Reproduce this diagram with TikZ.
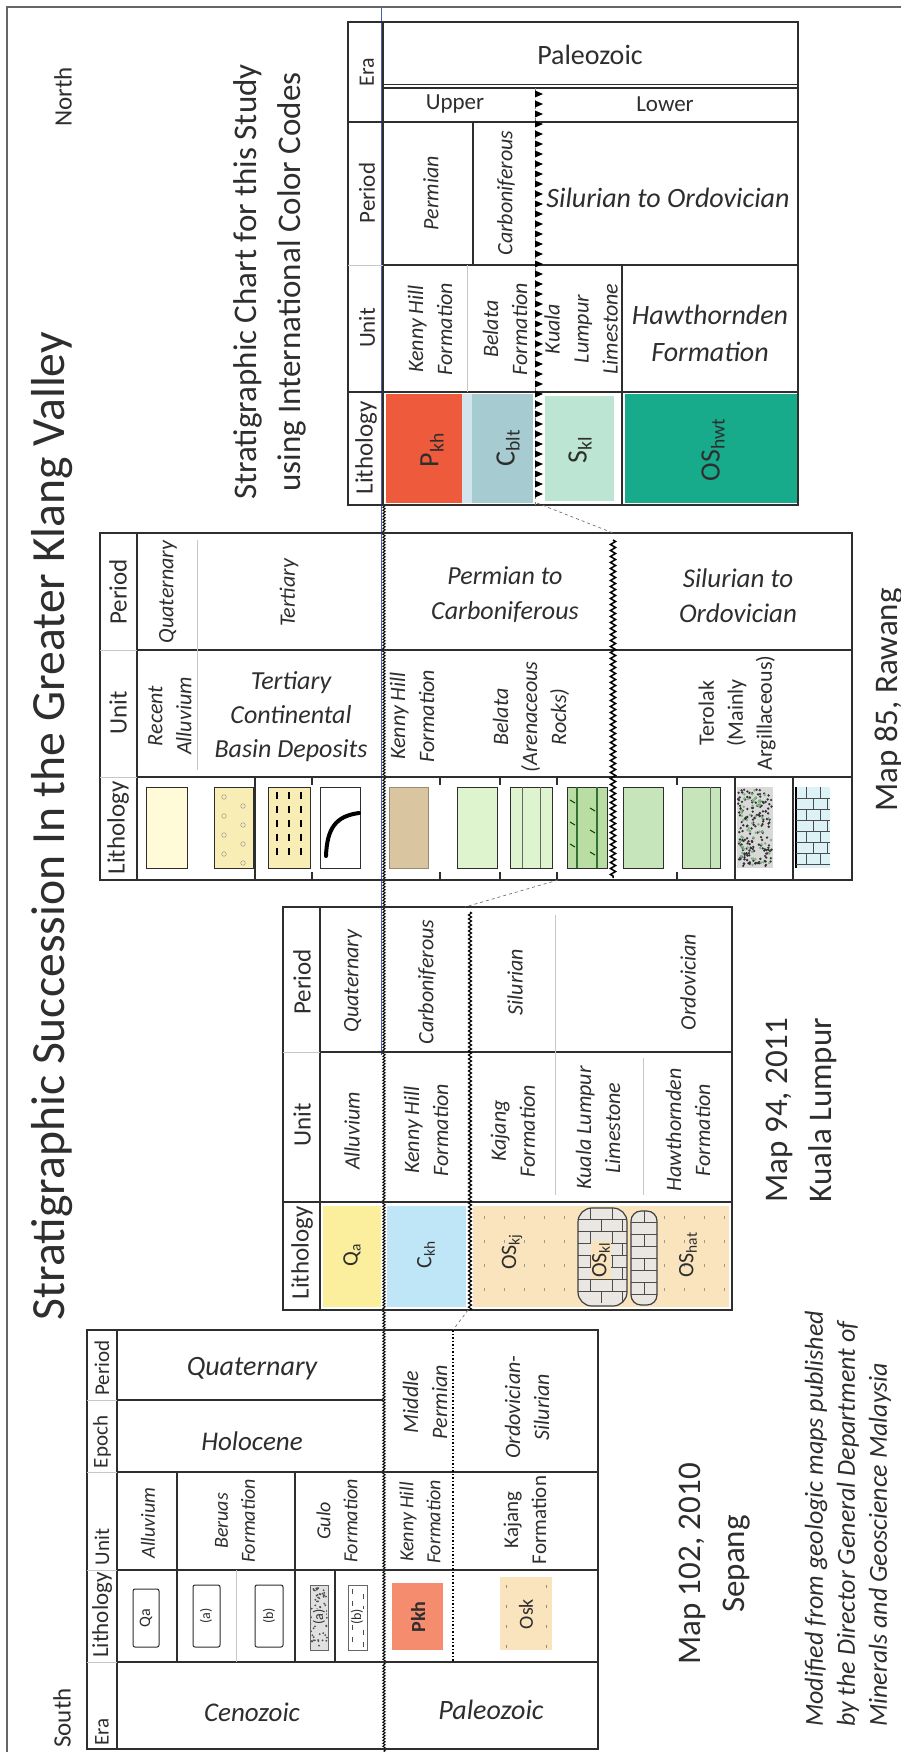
\documentclass[tikz,border=0pt]{standalone}
\usepackage{graphicx}
\usepackage{fontspec}
\setmainfont{Carlito}
\usetikzlibrary{decorations.pathmorphing}
\definecolor{ink}{HTML}{2E2E2E}
\definecolor{pkh}{HTML}{EE5A3C}
\definecolor{cblt}{HTML}{A6CBD1}
\definecolor{cbltl}{HTML}{D3E5EC}
\definecolor{skl}{HTML}{BDE5D3}
\definecolor{oshwt}{HTML}{17AB8B}
\definecolor{pale}{HTML}{FFFBD8}
\definecolor{sandy}{HTML}{F8EDB4}
\definecolor{kenny}{HTML}{D9C6A1}
\definecolor{lgreen}{HTML}{DDF4CF}
\definecolor{mgreen}{HTML}{C6E5BA}
\definecolor{dgreen}{HTML}{B9DDA2}
\definecolor{lcyan}{HTML}{DCF2F7}
\definecolor{qa}{HTML}{FBEF9E}
\definecolor{ckh}{HTML}{BFE6F6}
\definecolor{beige}{HTML}{FAE4BE}
\definecolor{salmon}{HTML}{F58C6E}
\definecolor{guide}{HTML}{4A5FB5}
\begin{document}
\begin{tikzpicture}[x=1pt,y=-1pt,
  framestyle/.style={draw=black!60, line width=1.5pt},
  bd/.style={draw=ink, line width=1.8pt},
  ln/.style={draw=ink, line width=1.1pt},
  fl/.style={draw=black!22, line width=0.9pt},
  conn/.style={draw=black!55, dashed, line width=0.7pt},
  V/.style={rotate=90, inner sep=0pt, align=center, text=ink},
  hdr/.style={V, font={\fontsize{25}{30}\selectfont}},
  hdrs/.style={V, font={\fontsize{21}{25}\selectfont}},
  vi/.style={V, font={\fontsize{22}{29}\selectfont\itshape}},
  vis/.style={V, font={\fontsize{20}{27}\selectfont\itshape}},
  vrs/.style={V, font={\fontsize{21}{28}\selectfont}},
  hi/.style={inner sep=0pt, align=center, text=ink, font={\fontsize{27}{35}\selectfont\itshape}},
  hr/.style={inner sep=0pt, align=center, text=ink, font={\fontsize{23}{28}\selectfont}},
  lith/.style={V, font={\fontsize{28}{30}\selectfont}},
  liths/.style={V, font={\fontsize{22}{24}\selectfont}},
  mini/.style={V, font={\fontsize{14}{16}\selectfont}},
  captxt/.style={V, font={\fontsize{33}{44}\selectfont}},
  uncA/.style={draw=black, line width=0.9pt, decorate, decoration={zigzag, segment length=3pt, amplitude=1.2pt}},
  uncB/.style={draw=black, line width=1.5pt, decorate, decoration={zigzag, segment length=6pt, amplitude=2.6pt}},
  uncC/.style={draw=black, line width=1.1pt, decorate, decoration={zigzag, segment length=4pt, amplitude=1.6pt}},
  dotl/.style={draw=black, line width=2pt, dash pattern=on 1.5pt off 2pt}
]
\useasboundingbox (0,0) rectangle (901,1752);
\fill[white] (0,0) rectangle (901,1752);
\draw[framestyle] (7,1760) -- (7,7) -- (910,7);

% ---------- titles
\node[V, font={\fontsize{46}{50}\selectfont}] (title) at (52,826) {\resizebox{988pt}{!}{Stratigraphic Succession In the Greater Klang Valley}};
\node[V, font={\fontsize{25}{30}\selectfont}] (north) at (63,97) {North};
\node[V, font={\fontsize{25}{30}\selectfont}] (south) at (62,1718) {South};
\node[captxt] (stitle) at (270,282) {Stratigraphic Chart for this Study\\using International Color Codes};

% ---------- guide lines
\draw[guide, line width=0.8pt] (381,8) -- (381,1055);
\draw[uncA] (384,505) -- (384,1752);

% ================= Study chart
\fill[pkh] (386,394) rectangle (462,503);
\fill[cbltl] (462,394) rectangle (472,503);
\fill[cblt] (472,394) rectangle (533,503);
\fill[skl] (545,396) rectangle (614,501);
\fill[oshwt] (625,394) rectangle (797,503);
\draw[ln] (348,22) rectangle (383,505);
\draw[bd] (383,22) rectangle (798,505);
\draw[ln] (383,84.5) -- (798,84.5);
\draw[ln] (383,88) -- (798,88);
\draw[ln] (348,122) -- (798,122);
\draw[ln] (383,265) -- (798,265);
\draw[fl] (348,265) -- (383,265);
\draw[bd] (348,392) -- (798,392);
\draw[ln] (473,122) -- (473,265);
\draw[fl] (467,265) -- (467,392);
\draw[ln] (622,265) -- (622,505);
\draw[draw=black!50, dashed, line width=0.7pt] (535,88) -- (535,505);
\foreach \yy in {94,104,...,500} \fill[black] (535,\yy-3.5) -- (543,\yy) -- (535,\yy+3.5) -- cycle;

\node[hdr, font={\fontsize{22}{26}\selectfont}] (sEra) at (367,72) {Era};
\node[hdr, font={\fontsize{23}{26}\selectfont}] (sPer) at (367,193) {Period};
\node[hdr, font={\fontsize{23}{26}\selectfont}] (sUni) at (367,328) {Unit};
\node[hdr] (sLit) at (366,448) {Lithology};
\node[hr, font={\fontsize{28}{30}\selectfont}] (sPal) at (590,55) {Paleozoic};
\node[hr] (sUp) at (455,104) {Upper};
\node[hr] (sLo) at (665,104) {Lower};
\node[vi] (sPerm) at (431,193) {Permian};
\node[vi] (sCarb) at (506,193) {Carboniferous};
\node[hi, font={\fontsize{28}{36}\selectfont\itshape}] (sSO) at (668,198) {Silurian to Ordovician};
\node[vi] (sKH) at (430,329) {Kenny Hill\\Formation};
\node[vi] (sBel) at (505,329) {Belata\\Formation};
\node[vi] (sKL) at (581,329) {Kuala\\Lumpur\\Limestone};
\node[hi, font={\fontsize{28}{37}\selectfont\itshape}] (sHaw) at (710,333) {Hawthornden\\Formation};
\node[lith] (lPkh) at (432,450) {P\textsubscript{kh}};
\node[lith] (lCblt) at (508,448) {C\textsubscript{blt}};
\node[lith] (lSkl) at (580,450) {S\textsubscript{kl}};
\node[lith] (lOS) at (713,450) {OS\textsubscript{hwt}};

% ================= Rawang chart
\fill[pale] (146,787) rectangle (187,868);
\draw[ln, line width=0.9pt] (146,787) rectangle (187,868);
\fill[sandy] (214,787) rectangle (253,868);
\draw[ln, line width=0.9pt] (214,787) rectangle (253,868);
\foreach \yy in {797,816,...,860} {\draw[black!45] (224,\yy) circle (2.3pt); \draw[black!45] (243,\yy+9) circle (2.3pt);}
\fill[sandy] (268,787) rectangle (310,868);
\draw[ln, line width=0.9pt] (268,787) rectangle (310,868);
\foreach \yy in {792,806,...,860} \foreach \xx in {277,289,301} \draw[black, line width=1.3pt] (\xx,\yy) -- (\xx,\yy+7);
\draw[ln, line width=0.9pt, fill=white] (320,787) rectangle (360,868);
\draw[black, line width=4pt, line cap=round] (326,856) .. controls (327,828) and (336,816) .. (359,813);
\fill[kenny] (389,787) rectangle (428,868);
\draw[draw=kenny!70!black, line width=0.8pt] (389,787) rectangle (428,868);
\fill[lgreen] (457,787) rectangle (497,868);
\draw[ln, line width=0.9pt] (457,787) rectangle (497,868);
\fill[lgreen] (510,787) rectangle (552,868);
\draw[ln, line width=0.9pt] (510,787) rectangle (552,868);
\draw[black!60] (522,787) -- (522,868);
\draw[black!60] (540,787) -- (540,868);
\fill[dgreen] (567,787) rectangle (607,868);
\draw[ln, line width=0.9pt] (567,787) rectangle (607,868);
\foreach \xx in {577,597} \draw[green!30!black!80, line width=1.4pt] (\xx,787) -- (\xx,868);
\foreach \yy in {800,822,...,860} {\draw[green!25!black, line width=1pt] (570,\yy) -- (575,\yy+3); \draw[green!25!black, line width=1pt] (590,\yy+8) -- (595,\yy+11);}
\fill[mgreen] (623,787) rectangle (663,868);
\draw[ln, line width=0.9pt] (623,787) rectangle (663,868);
\fill[mgreen] (682,787) rectangle (720,868);
\draw[ln, line width=0.9pt] (682,787) rectangle (720,868);
\draw[black!60] (710,787) -- (710,868);
\fill[black!15] (737,787) rectangle (773,868);
\pgfmathsetseed{7}
\foreach \i in {1,...,170} {\pgfmathsetmacro{\rx}{738+34*rnd}\pgfmathsetmacro{\ry}{789+77*rnd}\fill[black!80] (\rx,\ry) circle (1.3pt);}
\foreach \i in {1,...,60} {\pgfmathsetmacro{\rx}{738+34*rnd}\pgfmathsetmacro{\ry}{789+77*rnd}\fill[green!40!black!50] (\rx,\ry) circle (1.4pt);}
\fill[lcyan] (796,787) rectangle (830,868);
\draw[black, line width=1.6pt] (796,787) -- (796,868);
\foreach \yy in {798,809,...,866} \draw[black!70, line width=0.8pt] (796,\yy) -- (830,\yy);
\foreach \yy in {787,809,...,860} {\draw[black!70, line width=0.8pt] (806,\yy) -- (806,\yy+11); \draw[black!70, line width=0.8pt] (820,\yy) -- (820,\yy+11);}
\foreach \yy in {798,820,...,860} {\draw[black!70, line width=0.8pt] (813,\yy) -- (813,\yy+11); \draw[black!70, line width=0.8pt] (827,\yy) -- (827,\yy+11);}

\draw[ln, line width=1.5pt] (100,533) rectangle (137,880);
\draw[bd] (137,533) rectangle (852,880);
\draw[ln] (137,650) -- (852,650);
\draw[ln] (137,777) -- (852,777);
\draw[fl] (100,650) -- (137,650);
\draw[fl] (100,777) -- (137,777);
\draw[fl] (197,540) -- (197,770);
\draw[ln] (255,777) -- (255,880);
\draw[ln] (735,777) -- (735,880);
\draw[ln] (793,777) -- (793,880);
\foreach \xx in {312,440,500,557,677} {\draw[ln] (\xx,777) -- (\xx,785); \draw[ln] (\xx,872) -- (\xx,880);}
\draw[uncB] (613,540) -- (613,878);

\node[hdr] (rPer) at (118,592) {Period};
\node[hdr] (rUni) at (118,713) {Unit};
\node[hdr] (rLit) at (118,828) {Lithology};
\node[vi] (rQ) at (168,592) {Quaternary};
\node[vi] (rT) at (289,593) {Tertiary};
\node[hi, font={\fontsize{26}{35}\selectfont\itshape}] (rPC) at (505,595) {Permian to\\Carboniferous};
\node[hi, font={\fontsize{27}{35}\selectfont\itshape}] (rSO) at (738,596) {Silurian to\\Ordovician};
\node[vi] (rRA) at (170,716) {Recent\\Alluvium};
\node[hi, font={\fontsize{26}{34}\selectfont\itshape}] (rTC) at (291,717) {Tertiary\\Continental\\Basin Deposits};
\node[vi] (rKH) at (412,716) {Kenny Hill\\Formation};
\node[vi] (rBe) at (531,717) {Belata\\(Arenaceous\\Rocks)};
\node[V, font={\fontsize{22}{29}\selectfont}] (rTe) at (737,713) {Terolak\\(Mainly\\Argillaceous)};

% ================= Kuala Lumpur chart
\fill[qa] (323,1206) rectangle (381,1307);
\fill[ckh] (387,1206) rectangle (466,1307);
\fill[beige] (473,1206) rectangle (729,1307);
\foreach \xx in {484,504,...,724} \foreach \yy in {1216,1240,...,1300} \draw[black!40, line width=0.8pt] (\xx,\yy) -- (\xx,\yy+3);
\begin{scope}
\clip[rounded corners=14pt] (578,1208) rectangle (627,1306);
\fill[beige!60!black!20] (578,1208) rectangle (627,1306);
\foreach \yy in {1219,1231,...,1300} \draw[black!70, line width=0.8pt] (578,\yy) -- (627,\yy);
\foreach \yy in {1208,1232,...,1300} {\draw[black!70, line width=0.8pt] (590,\yy) -- (590,\yy+11); \draw[black!70, line width=0.8pt] (612,\yy) -- (612,\yy+11);}
\foreach \yy in {1220,1244,...,1300} {\draw[black!70, line width=0.8pt] (601,\yy) -- (601,\yy+11); \draw[black!70, line width=0.8pt] (622,\yy) -- (622,\yy+11);}
\end{scope}
\draw[black!75, line width=1.2pt, rounded corners=14pt] (578,1208) rectangle (627,1306);
\begin{scope}
\clip[rounded corners=10pt] (631,1211) rectangle (657,1305);
\fill[beige!60!black!20] (631,1211) rectangle (657,1305);
\foreach \yy in {1222,1234,...,1300} \draw[black!70, line width=0.8pt] (631,\yy) -- (657,\yy);
\foreach \yy in {1211,1235,...,1300} \draw[black!70, line width=0.8pt] (644,\yy) -- (644,\yy+11);
\end{scope}
\draw[black!75, line width=1.2pt, rounded corners=10pt] (631,1211) rectangle (657,1305);

\draw[ln, line width=1.5pt] (283,907) rectangle (320,1310);
\draw[bd] (320,907) rectangle (732,1310);
\draw[ln] (320,1052) -- (732,1052);
\draw[ln] (320,1202) -- (732,1202);
\draw[fl] (283,1052) -- (320,1052);
\draw[ln] (283,1202) -- (320,1202);
\draw[fl] (555,915) -- (555,1195);
\draw[fl] (643,1058) -- (643,1195);
\draw[uncC] (470,912) -- (470,1310);

\node[hdr] (kPer) at (302,982) {Period};
\node[hdr] (kUni) at (302,1125) {Unit};
\node[hdr] (kLit) at (302,1253) {Lithology};
\node[vi] (kQ) at (353,981) {Quaternary};
\node[vi] (kC) at (427,982) {Carboniferous};
\node[vi] (kS) at (515,982) {Silurian};
\node[vi] (kO) at (688,982) {Ordovician};
\node[vi] (kA) at (352,1131) {Alluvium};
\node[vi] (kKH) at (426,1130) {Kenny Hill\\Formation};
\node[vi] (kKj) at (513,1131) {Kajang\\Formation};
\node[vi] (kKL) at (598,1128) {Kuala Lumpur\\Limestone};
\node[vi] (kHw) at (688,1130) {Hawthornden\\Formation};
\node[liths] (kLqa) at (352,1255) {Q\textsubscript{a}};
\node[liths] (kLck) at (426,1255) {C\textsubscript{kh}};
\node[liths] (kLkj) at (512,1252) {OS\textsubscript{kj}};
\node[liths, fill=beige, inner sep=1pt] (kLkl) at (601,1260) {OS\textsubscript{kl}};
\node[liths] (kLhw) at (688,1255) {OS\textsubscript{hat}};

% ================= Sepang chart
\fill[salmon] (392,1583) rectangle (443,1650);
\fill[beige] (500,1577) rectangle (552,1650);
\foreach \yy in {1585,1605,...,1645} {\draw[black!45, line width=0.9pt] (506,\yy) -- (506,\yy+3); \draw[black!45, line width=0.9pt] (546,\yy) -- (546,\yy+3);}
\draw[ln] (87,1330) rectangle (117,1749);
\draw[bd] (117,1330) rectangle (598,1749);
\draw[ln] (117,1400) -- (383,1400);
\draw[ln] (117,1472) -- (598,1472);
\draw[ln] (117,1570) -- (598,1570);
\draw[ln] (117,1662) -- (598,1662);
\draw[fl] (87,1400) -- (117,1400);
\draw[fl] (87,1472) -- (117,1472);
\draw[fl] (87,1570) -- (117,1570);
\draw[fl] (87,1662) -- (117,1662);
\draw[ln] (177,1472) -- (177,1662);
\draw[ln] (295,1472) -- (295,1662);
\draw[fl] (236,1570) -- (236,1662);
\draw[ln] (335,1570) -- (335,1662);
\draw[dotl] (453,1330) -- (453,1662);

\draw[ln, line width=1pt, rounded corners=2pt, fill=white] (133,1589) rectangle (159,1647);
\draw[ln, line width=1pt, rounded corners=2pt, fill=white] (193,1585) rectangle (220,1647);
\draw[ln, line width=1pt, rounded corners=2pt, fill=white] (255,1585) rectangle (283,1647);
\fill[black!12] (310,1585) rectangle (328,1650);
\foreach \i in {1,...,70} {\pgfmathsetmacro{\rx}{311+16*rnd}\pgfmathsetmacro{\ry}{1586+63*rnd}\fill[black!70] (\rx,\ry) circle (1pt);}
\draw[black!60, line width=0.8pt] (310,1585) rectangle (328,1650);
\draw[black!60, line width=0.8pt, fill=white] (348,1585) rectangle (367,1650);
\foreach \yy in {1589,1601,...,1645} {\draw[black!70, line width=1pt] (352,\yy) -- (352,\yy+5); \draw[black!70, line width=1pt] (363,\yy+5) -- (363,\yy+10);}

\node[hdrs] (pPer) at (102,1368) {Period};
\node[hdrs] (pEpo) at (102,1442) {Epoch};
\node[hdrs] (pUni) at (102,1547) {Unit};
\node[hdrs, font={\fontsize{23}{26}\selectfont}] (pLit) at (102,1615) {Lithology};
\node[hdrs] (pEra) at (102,1732) {Era};
\node[hi, font={\fontsize{28}{34}\selectfont\itshape}] (pQ) at (252,1369) {Quaternary};
\node[hi, font={\fontsize{27}{34}\selectfont\itshape}] (pH) at (252,1441) {Holocene};
\node[hi, font={\fontsize{27}{34}\selectfont\itshape}] (pCe) at (252,1712) {Cenozoic};
\node[hi, font={\fontsize{28}{34}\selectfont\itshape}] (pPa) at (491,1710) {Paleozoic};
\node[vis] (pAl) at (148,1523) {Alluvium};
\node[vis] (pBe) at (235,1521) {Beruas\\Formation};
\node[vis] (pGu) at (337,1521) {Gulo\\Formation};
\node[vi] (pMP) at (425,1402) {Middle\\Permian};
\node[vi] (pOS) at (527,1407) {Ordovician-\\Silurian};
\node[vis] (pKH) at (420,1522) {Kenny Hill\\Formation};
\node[vrs] (pKj) at (525,1520) {Kajang\\Formation};
\node[V, font={\fontsize{20}{22}\selectfont\bfseries}] (pPkh) at (418,1617) {Pkh};
\node[V, font={\fontsize{20}{22}\selectfont}] (pOsk) at (526,1614) {Osk};
\node[mini, font={\fontsize{16}{18}\selectfont}] (pQa) at (146,1618) {Qa};
\node[mini] (pa) at (206,1616) {(a)};
\node[mini] (pb) at (269,1616) {(b)};
\node[mini, fill=black!12, inner sep=0.5pt] (pga) at (319,1617) {(a)};
\node[mini, fill=white, inner sep=0.5pt] (pgb) at (357,1617) {(b)};

% ================= connectors
\coordinate (sU) at (537,503);
\coordinate (rU) at (613,533);
\coordinate (rB) at (558,880);
\coordinate (kU) at (465,907);
\coordinate (kB) at (468,1310);
\coordinate (pU) at (453,1330);
\draw[conn] (sU) -- (rU);
\draw[conn] (rB) -- (kU);
\draw[conn] (kB) -- (pU);

% ================= captions
\node[captxt] (cRaw) at (889,700) {Map 85, Rawang};
\node[captxt] (cKL) at (801,1110) {Map 94, 2011\\Kuala Lumpur};
\node[captxt] (cSep) at (715,1564) {Map 102, 2010\\Sepang};
\node[V, align=left, anchor=west, font={\fontsize{26}{32}\selectfont\itshape}] (cMod) at (848,1727) {Modified from geologic maps published\\by the Director General Department of\\Minerals and Geoscience Malaysia};
\end{tikzpicture}
\end{document}
